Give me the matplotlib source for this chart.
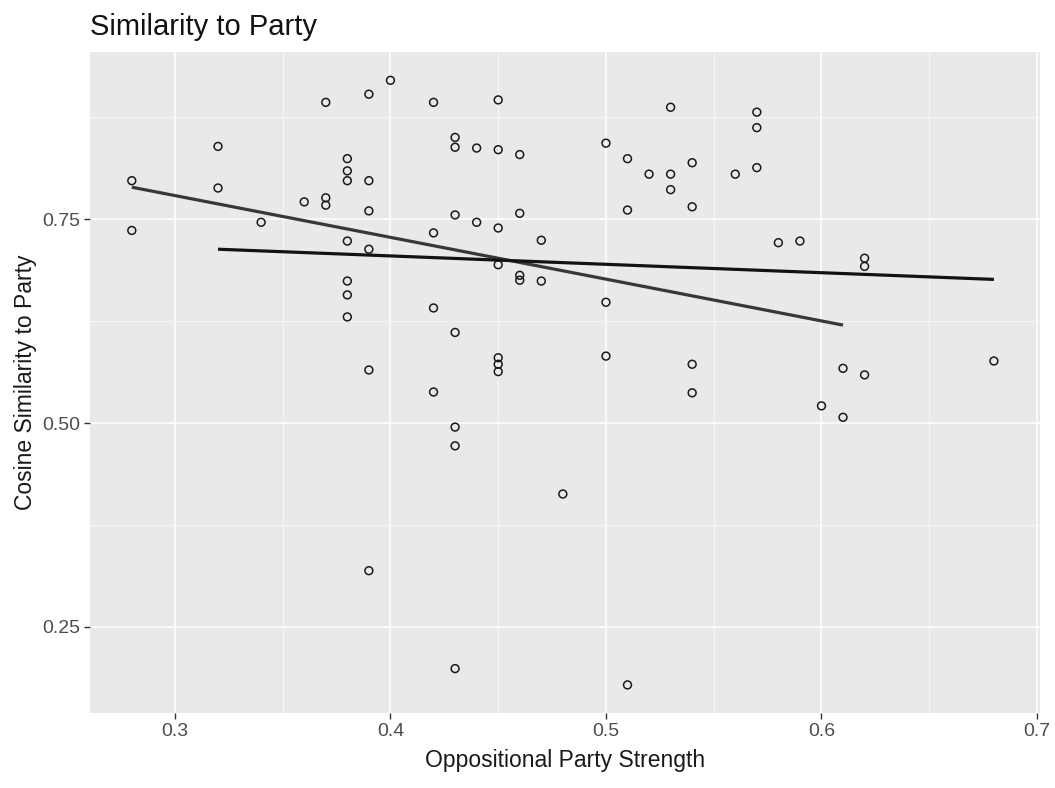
import numpy as np
import matplotlib
matplotlib.use("Agg")
import matplotlib.pyplot as plt
from matplotlib.ticker import MultipleLocator, FormatStrFormatter

plt.rcParams['font.family'] = ['Liberation Sans', 'DejaVu Sans']

# Oppositional party strength (x) and cosine similarity to party (y)
strength = [
    0.28, 0.28, 0.32, 0.32, 0.34, 0.36, 0.37, 0.37, 0.37,
    0.38, 0.38, 0.38, 0.38, 0.38, 0.38, 0.38,
    0.39, 0.39, 0.39, 0.39, 0.39, 0.39, 0.40,
    0.42, 0.42, 0.42, 0.42,
    0.43, 0.43, 0.43, 0.43, 0.43, 0.43, 0.43,
    0.44, 0.44,
    0.45, 0.45, 0.45, 0.45, 0.45, 0.45, 0.45,
    0.46, 0.46, 0.46, 0.46, 0.47, 0.47, 0.48,
    0.50, 0.50, 0.50, 0.51, 0.51, 0.51, 0.52,
    0.53, 0.53, 0.53, 0.54, 0.54, 0.54, 0.54,
    0.56, 0.57, 0.57, 0.57, 0.58, 0.59, 0.60,
    0.61, 0.61, 0.62, 0.62, 0.62, 0.68,
]
similarity = [
    0.797, 0.736, 0.839, 0.788, 0.746, 0.771, 0.893, 0.776, 0.767,
    0.824, 0.809, 0.797, 0.723, 0.674, 0.657, 0.630,
    0.903, 0.797, 0.760, 0.713, 0.565, 0.319, 0.920,
    0.893, 0.733, 0.641, 0.538,
    0.850, 0.838, 0.755, 0.611, 0.495, 0.472, 0.199,
    0.837, 0.746,
    0.896, 0.835, 0.739, 0.694, 0.580, 0.572, 0.563,
    0.829, 0.757, 0.681, 0.675, 0.724, 0.674, 0.413,
    0.843, 0.648, 0.582, 0.179, 0.824, 0.761, 0.805,
    0.805, 0.786, 0.887, 0.819, 0.765, 0.572, 0.537,
    0.805, 0.881, 0.862, 0.813, 0.721, 0.723, 0.521,
    0.567, 0.507, 0.702, 0.692, 0.559, 0.576,
]

# Two fitted trend lines: (x_start, x_end), (y_start, y_end)
fit_a_x = [0.28, 0.61]
fit_a_y = [0.789, 0.620]
fit_b_x = [0.32, 0.68]
fit_b_y = [0.713, 0.676]

fig = plt.figure(figsize=(10.55, 7.88), dpi=100)
fig.patch.set_facecolor('white')
ax = fig.add_axes([0.0853, 0.0952, 0.9005, 0.8388])

ax.set_facecolor('#e9e9e9')
ax.set_xlim(0.2606, 0.7014)
ax.set_ylim(0.1446, 0.9547)

ax.xaxis.set_major_locator(MultipleLocator(0.1))
ax.xaxis.set_minor_locator(MultipleLocator(0.05))
ax.yaxis.set_major_locator(MultipleLocator(0.25))
ax.yaxis.set_minor_locator(MultipleLocator(0.125))
ax.xaxis.set_major_formatter(FormatStrFormatter('%.1f'))
ax.yaxis.set_major_formatter(FormatStrFormatter('%.2f'))

ax.grid(which='major', color='#fafafa', linewidth=1.5)
ax.grid(which='minor', color='#f6f6f6', linewidth=0.8)
ax.set_axisbelow(True)
for s in ax.spines.values():
    s.set_visible(False)

ax.tick_params(which='major', length=4, width=1, color='#333333',
               labelsize=14, labelcolor='#4d4d4d', pad=3)
ax.tick_params(which='minor', length=0)

ax.scatter(strength, similarity, s=32, facecolors='none',
           edgecolors='#1a1a1a', linewidths=1.1, zorder=3)

ax.plot(fit_a_x, fit_a_y, color='#383838', linewidth=2.3, zorder=4,
        solid_capstyle='butt')
ax.plot(fit_b_x, fit_b_y, color='#121212', linewidth=2.3, zorder=4,
        solid_capstyle='butt')

ax.set_xlabel('Oppositional Party Strength', fontsize=16.5, color='#1a1a1a',
              labelpad=7)
ax.set_ylabel('Cosine Similarity to Party', fontsize=16.5, color='#1a1a1a',
              labelpad=4)
fig.text(0.0853, 1 - 35 / 788, 'Similarity to Party', fontsize=21,
         color='#111111', ha='left', va='baseline')

fig.savefig('out.png', dpi=100)
